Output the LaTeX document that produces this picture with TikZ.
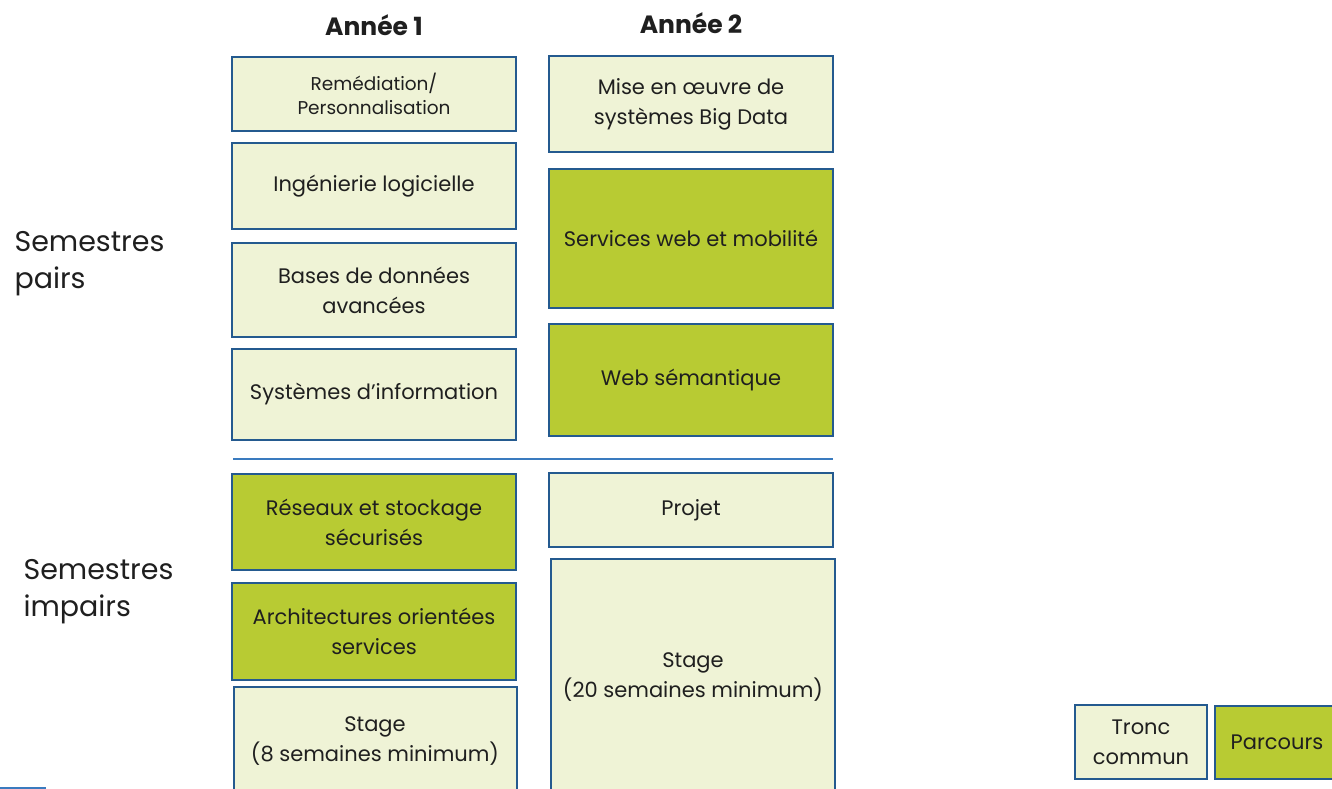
\documentclass[tikz,border=0pt]{standalone}
\usepackage{fontspec}
\setmainfont{Poppins}
\definecolor{lightfill}{HTML}{EFF3D6}
\definecolor{greenfill}{HTML}{B8CB33}
\definecolor{boxborder}{HTML}{245A8F}
\definecolor{sepline}{HTML}{3A7BBF}
\begin{document}
\begin{tikzpicture}[x=1pt,y=-1pt,
  base/.style={draw=boxborder,line width=2pt,align=center,inner sep=0pt,
    font=\fontsize{21}{30}\selectfont,text=black!88},
  tronc/.style={base,fill=lightfill},
  parcours/.style={base,fill=greenfill},
  semlabel/.style={anchor=west,align=left,font=\fontsize{28.5}{37}\selectfont,text=black!88},
  heading/.style={font=\bfseries\fontsize{25}{28}\selectfont,text=black!88}]
\useasboundingbox (0,0) rectangle (1332,789);
\fill[white] (0,0) rectangle (1332,789);

% headings
\node[heading] (h1) at (374,25) {Année 1};
\node[heading] (h2) at (691,23) {Année 2};

% side labels
\node[semlabel] (sp) at (11,264) {Semestres\\pairs};
\node[semlabel] (si) at (20,592) {Semestres\\impairs};

% year 1, even semesters
\node[tronc,minimum width=284,minimum height=74,font=\fontsize{18.5}{24}\selectfont] (rem) at (374,94) {Remédiation/\\Personnalisation};
\node[tronc,minimum width=284,minimum height=86] (ing) at (374,186) {Ingénierie logicielle};
\node[tronc,minimum width=284,minimum height=94] (bdd) at (374,290) {Bases de données\\avancées};
\node[tronc,minimum width=284,minimum height=91] (si1) at (374,394) {Systèmes d'information};

% year 2, even semesters
\node[tronc,minimum width=284,minimum height=96] (big) at (691,104) {Mise en œuvre de\\systèmes Big Data};
\node[parcours,minimum width=284,minimum height=139] (web) at (691,238) {Services web et mobilité};
\node[parcours,minimum width=284,minimum height=112] (sem) at (691,380) {Web sémantique};

% separator
\coordinate (l1) at (233,459);
\coordinate (l2) at (833,459);
\draw[sepline,line width=1.3pt] (l1) -- (l2);

% year 1, odd semesters
\node[parcours,minimum width=284,minimum height=96] (res) at (374,522) {Réseaux et stockage\\sécurisés};
\node[parcours,minimum width=284,minimum height=97] (arch) at (374,631) {Architectures orientées\\services};
\node[tronc,minimum width=283,minimum height=108] (st1) at (375,741) {Stage\\(8 semaines minimum)};

% year 2, odd semesters
\node[tronc,minimum width=284,minimum height=74] (proj) at (691,510) {Projet};
\node[tronc,minimum width=284,minimum height=236] (st2) at (693,677) {Stage\\(20 semaines minimum)};

% legend
\node[tronc,minimum width=132,minimum height=74] (lt) at (1141,742) {Tronc\\commun};
\node[parcours,minimum width=125,minimum height=73] (lp) at (1277,742.5) {Parcours};

% small blue mark bottom left
\coordinate (m1) at (0,788);
\coordinate (m2) at (46,788);
\draw[sepline,line width=2pt] (m1) -- (m2);
\end{tikzpicture}
\end{document}
